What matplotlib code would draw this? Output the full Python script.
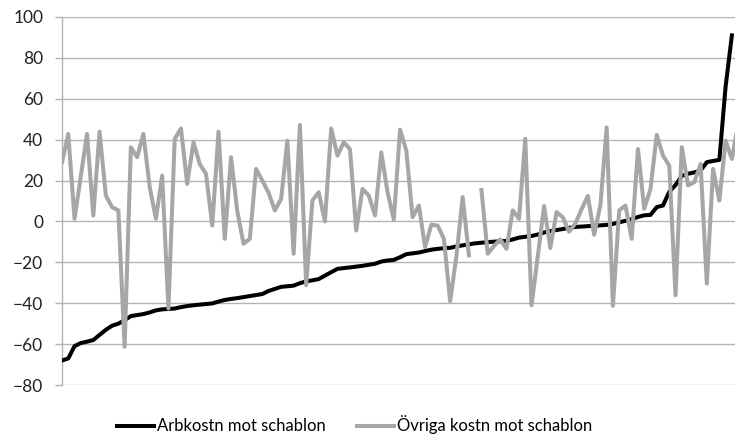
import numpy as np
import matplotlib
matplotlib.use('Agg')
import matplotlib.pyplot as plt

# serier, sorterade efter arbetskostnad
arbkostn = [-68, -67, -61, -59.5, -58.8, -58, -55.5, -53, -51, -50,
            -48.3, -46.3, -45.8, -45.3, -44.5, -43.5, -43, -42.8, -42.6, -41.9,
            -41.4, -41, -40.7, -40.4, -40.1, -39.2, -38.4, -37.9, -37.5, -37,
            -36.5, -36, -35.5, -34, -33, -32, -31.7, -31.4, -30.2, -29.3,
            -28.8, -28.2, -26.5, -24.8, -23.2, -22.8, -22.5, -22.1, -21.7, -21.2,
            -20.7, -19.6, -19.1, -18.8, -17.5, -16, -15.6, -15.2, -14.5, -13.8,
            -13.4, -13.1, -12.9, -12.2, -11.7, -11.2, -10.7, -10.4, -10.1, -9.9,
            -9.7, -9.5, -8.8, -7.9, -7.5, -7.1, -6.4, -5.4, -4.7, -4.2,
            -3.7, -3.1, -2.7, -2.5, -2.3, -2.1, -1.9, -1.7, -1.2, -0.4,
            0.3, 1.1, 2.2, 3, 3.2, 7, 7.8, 14.5, 17.8, 22.3,
            23.3, 24, 24.9, 29, 29.6, 30.1, 66, 91, np.nan]

ovriga = [28.9, 42.8, 1.3, 22, 42.8, 2.9, 43.9, 12.7, 7, 5.4,
          -61.3, 36.3, 31.4, 42.8, 17, 1.3, 22.4, -42.6, 40.3, 45.5,
          18.4, 38.7, 28.1, 23.3, -2, 43.9, -8.5, 31.4, 5, -10.9,
          -8.5, 25.7, 20, 14, 5.4, 11, 39.5, -15.8, 47.2, -31.2,
          10.2, 14.3, 0, 45.5, 32.2, 38.7, 35.4, -4.4, 15.9, 12.7,
          2.9, 33.8, 14.3, 1, 44.9, 34.6, 2.1, 7.8, -12.5, -1.6,
          -2, -8.5, -39, -17, 11.9, -16.6, np.nan, 15.4, -15.8, -12,
          -8.8, -13.4, 5.4, 1.3, 40.4, -41, -17, 7.5, -13, 4.6,
          2, -5, -1, 6, 12.5, -6.5, 8, 46, -41.3, 5.4,
          7.8, -8.5, 35.4, 6.2, 15.9, 42.3, 32.2, 27.3, -36.1, 36.3,
          17.6, 19.2, 28.1, -30.4, 25.7, 10.2, 39.5, 30.6, 48]

y_ticks = list(range(-80, 101, 20))
grid_col = '#b3b3b3'

plt.rcParams['font.family'] = ['Lato', 'DejaVu Sans']

fig = plt.figure(figsize=(7.35, 4.36), dpi=100)
ax = fig.add_axes([62 / 735, (436 - 385) / 436, 1 - 62 / 735, (385 - 17) / 436])

x = np.arange(len(arbkostn))
ax.plot(x, arbkostn, color='black', lw=2.9, solid_joinstyle='round',
        label='Arbkostn mot schablon', zorder=3)
ax.plot(x, ovriga, color='#a6a6a6', lw=2.9, solid_joinstyle='round',
        label='Övriga kostn mot schablon', zorder=4)

ax.set_ylim(-80, 100)
ax.set_xlim(0, 107.5)
ax.set_yticks(y_ticks)
ax.set_xticks([])
ax.grid(axis='y', color=grid_col, lw=1.0, zorder=0)
ax.tick_params(axis='y', length=5, width=1.0, color=grid_col, pad=8.5,
               labelsize=12.5, labelcolor='#222222')
for side in ['top', 'right', 'bottom']:
    ax.spines[side].set_visible(False)
ax.spines['left'].set_color(grid_col)
ax.spines['left'].set_linewidth(1.0)

# legend under diagrammet
fig.legend(loc='center left', bbox_to_anchor=(117 / 735, 1 - 425 / 436),
           ncol=2, frameon=False, fontsize=12, handlelength=2.2,
           handletextpad=0.2, columnspacing=1.9, borderpad=0, borderaxespad=0)

fig.savefig('out.png', dpi=100)
